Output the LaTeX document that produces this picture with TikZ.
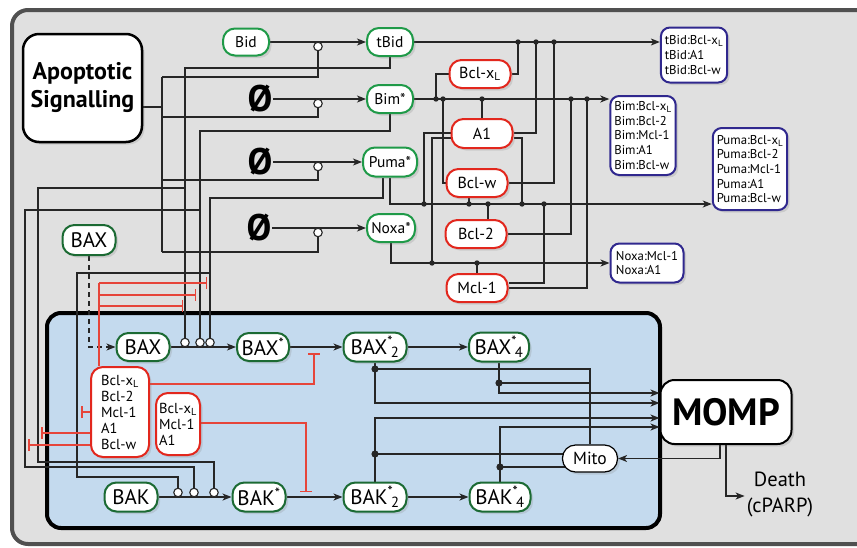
\documentclass[tikz,border=0pt]{standalone}
\usepackage{fontspec}
\setmainfont{PT Sans}
\usetikzlibrary{arrows.meta,shadows,calc}
\pgfdeclarelayer{back}
\pgfsetlayers{back,main}
\definecolor{frameg}{HTML}{505050}
\definecolor{bgg}{HTML}{E0E0E0}
\definecolor{innerb}{HTML}{C4DAEE}
\definecolor{gA}{HTML}{1F9A48}
\definecolor{gB}{HTML}{1B6A33}
\definecolor{rA}{HTML}{E2271D}
\definecolor{pA}{HTML}{30288E}
\definecolor{rL}{HTML}{E6453A}
\definecolor{wireC}{HTML}{262626}
\newcommand\bclxl{Bcl-x\textsubscript{L}}
\newcommand\starsub[1]{\textsuperscript{*}\kern-0.1em\textsubscript{#1}}
\begin{document}
\begin{tikzpicture}[x=1pt,y=-1pt,
  sz/.style 2 args={minimum width=#1pt,minimum height=#2pt},
  base/.style={draw,line width=2pt,fill=white,rounded corners=12pt,inner sep=0pt,align=center,
    drop shadow={opacity=0.22,shadow xshift=2.5pt,shadow yshift=-2.5pt}},
  gtop/.style={base,draw=gA,font=\fontsize{15.5}{17}\selectfont},
  gin/.style={base,draw=gB,font=\fontsize{21}{23}\selectfont},
  anti/.style={base,draw=rA,font=\fontsize{16}{18}\selectfont},
  cplx/.style={base,draw=pA,rounded corners=9pt,align=left,inner xsep=4pt,font=\fontsize{12.8}{14.6}\selectfont},
  inhb/.style={base,draw=rA,rounded corners=12pt,align=left,font=\fontsize{14.5}{16}\selectfont},
  empt/.style={inner sep=0.5pt,font=\fontsize{37}{37}\selectfont\bfseries},
  modc/.style={circle,draw=wireC,fill=white,line width=1.1pt,minimum size=8.5pt,inner sep=0pt},
  wire/.style={draw=wireC,line width=1.2pt},
  arr/.style={wire,-{Stealth[length=9pt,width=7pt,inset=2.5pt]}},
  rw/.style={draw=rL,line width=1.1pt},
  ri/.style={rw,-{Bar[width=12pt,line width=1.5pt]}}
]
\useasboundingbox (0,0) rectangle (857,547);
\begin{pgfonlayer}{back}
\draw[line width=4pt,draw=frameg,fill=bgg,rounded corners=16pt] (12,10) rectangle (880,544);
\draw[line width=4pt,draw=black,fill=innerb,rounded corners=14pt] (47,313) rectangle (660,528);
\end{pgfonlayer}

% ---------- nodes ----------
\node[base,draw=black,line width=2.5pt,rounded corners=16pt,sz={119}{108},font=\fontsize{24}{28}\selectfont\bfseries] (sig) at (82.5,88) {Apoptotic\\Signalling};
\node[gtop,sz={46}{27}] (bid) at (246,42) {Bid};
\node[gtop,sz={46}{28}] (tbid) at (390,42) {tBid};
\node[gtop,sz={46}{28}] (bim) at (390,99) {Bim*};
\node[gtop,sz={54}{29}] (puma) at (390,162) {Puma*};
\node[gtop,sz={48}{28}] (noxa) at (391,228) {Noxa*};
\node[empt] (e1) at (260,99) {Ø};
\node[empt] (e2) at (260,162) {Ø};
\node[empt] (e3) at (259,228) {Ø};

\node[anti,sz={61}{28}] (bclxl) at (480,74) {\bclxl};
\node[anti,sz={61}{29}] (a1) at (482,133.5) {A1};
\node[anti,sz={61}{28}] (bclw) at (477,183) {Bcl-w};
\node[anti,sz={61}{28}] (bcl2) at (476,234) {Bcl-2};
\node[anti,sz={61}{28}] (mcl1) at (477,288) {Mcl-1};

\node[cplx,sz={66}{55}] (ctbid) at (694,55) {tBid:\bclxl\\tBid:A1\\tBid:Bcl-w};
\node[cplx,sz={62}{79}] (cbim) at (643,135.5) {Bim:\bclxl\\Bim:Bcl-2\\Bim:Mcl-1\\Bim:A1\\Bim:Bcl-w};
\node[cplx,sz={73}{82}] (cpuma) at (750,169) {Puma:\bclxl\\Puma:Bcl-2\\Puma:Mcl-1\\Puma:A1\\Puma:Bcl-w};
\node[cplx,sz={73}{39}] (cnoxa) at (647,263) {Noxa:Mcl-1\\Noxa:A1};

\node[gin,sz={53}{30}] (baxo) at (89,240) {BAX};
\node[gin,sz={53}{28}] (bax) at (143,347) {BAX};
\node[gin,sz={52}{28}] (baxs) at (263,347) {BAX\textsuperscript{*}};
\node[gin,sz={63}{29}] (bax2) at (375,347) {BAX\starsub{2}};
\node[gin,sz={60}{29}] (bax4) at (499,347) {BAX\starsub{4}};
\node[gin,sz={53}{29}] (bak) at (131,497) {BAK};
\node[gin,sz={53}{29}] (baks) at (259,497) {BAK\textsuperscript{*}};
\node[gin,sz={63}{29}] (bak2) at (375,497) {BAK\starsub{2}};
\node[gin,sz={61}{29}] (bak4) at (500,497) {BAK\starsub{4}};

\node[inhb,sz={58}{90}] (inh1) at (120,412) {\bclxl\\Bcl-2\\Mcl-1\\A1\\Bcl-w};
\node[inhb,sz={44}{62}] (inh2) at (178,424) {\bclxl\\Mcl-1\\A1};

\node[base,draw=black,line width=1.2pt,rounded corners=13pt,sz={55}{27},font=\fontsize{17.5}{19}\selectfont] (mito) at (590,458.5) {Mito};
\node[base,draw=black,line width=2pt,rounded corners=14pt,sz={131}{64},font=\fontsize{38}{40}\selectfont\bfseries] (momp) at (726,412) {MOMP};
\node[font=\fontsize{20.5}{26}\selectfont,align=center,inner sep=2pt] (death) at (780,494) {Death\\(cPARP)};

% modifier circles
\node[modc] (m1) at (318,46.5) {};
\node[modc] (m2) at (318,103.5) {};
\node[modc] (m3) at (318,166.5) {};
\node[modc] (m4) at (318,232.5) {};
\node[modc] (cx1) at (185,342.5) {};
\node[modc] (cx2) at (200,342.5) {};
\node[modc] (cx3) at (210,342.5) {};
\node[modc] (ck1) at (178,492.5) {};
\node[modc] (ck2) at (194,492.5) {};
\node[modc] (ck3) at (214,492.5) {};

% ---------- connectors ----------
\begin{pgfonlayer}{back}
\draw[arr] (bid.east) -- (tbid.west);
\draw[arr] (e1.east) -- (bim.west);
\draw[arr] (e2.east) -- (puma.west);
\draw[arr] (e3.east) -- (noxa.west);
% apoptotic signalling
\draw[wire] (sig.east |- 0,107) -- (162,107);
\draw[wire] (162,77) -- (162,252);
\draw[wire] (m1.south) |- (162,77);
\draw[wire] (m2.south) |- (162,117);
\draw[wire] (m3.south) |- (162,180);
\draw[wire] (m4.south) |- (162,252);
% activators to BAX / BAK
\draw[wire] (tbid.south) |- (185,68) -- (cx1.north);
\draw[wire] (185,188) -| (38,462) -| (ck3.north);
\draw[wire] (bim.south) |- (200,131) -- (cx2.north);
\draw[wire] (200,210) -| (25,467) -| (ck2.north);
\draw[wire] ($(puma.south)+(-7,0)$) |- (210,198) -- (cx3.north);
\draw[wire] (210,273) -| (77,477) -| (ck1.north);
% to complexes
\draw[arr] (tbid.east) -- (ctbid.west |- tbid.east);
\draw[arr] (bim.east) -- (cbim.west |- bim.east);
\draw[arr] (puma.south) |- (cpuma.west |- 0,204);
\draw[arr] (noxa.south) |- (cnoxa.west);
% binding partners
\draw[wire] (bclxl.east) -| (518,42);
\draw[wire] (a1.east |- 0,133) -| (536,42);
\draw[wire] (bclw.east) -| (554,42);
\draw[wire] (bclxl.west) -| (436,99);
\draw[wire] (bclw.west) -| (443,99);
\draw[wire] (a1.north) -- (a1.north |- 0,99);
\draw[wire] (bcl2.east) -| (571,99);
\draw[wire] (mcl1.east |- 0,288) -| (587,99);
\draw[wire] (a1.west |- 0,133) -| (424,204);
\draw[wire] (a1.west |- 0,138) -| (432,263);
\draw[wire] (a1.east |- 0,138) -| (522,204);
\draw[wire] (bclw.south -| 469,0) -- (469,204);
\draw[wire] (bcl2.north -| 488,0) -- (488,204);
\draw[wire] (mcl1.east |- 0,283) -| (544,204);
\draw[wire] (mcl1.north) -- (mcl1.north |- 0,263);
% BAX / BAK activation
\draw[arr,dash pattern=on 5pt off 4pt] (baxo.south) |- (bax.west);
\draw[arr] (bax.east) -- (baxs.west);
\draw[arr] (baxs.east) -- (bax2.west);
\draw[arr] (bax2.east) -- (bax4.west);
\draw[arr] (bak.east) -- (baks.west);
\draw[arr] (baks.east) -- (bak2.west);
\draw[arr] (bak2.east) -- (bak4.west);
% MOMP and Mito
\draw[arr] (bax2.south) |- (momp.west |- 0,403);
\draw[arr] (bax4.south) |- (momp.west |- 0,393);
\draw[arr] (bak2.north) |- (momp.west |- 0,418);
\draw[arr] (bak4.north) |- (momp.west |- 0,427);
\draw[wire] (bax2.south |- 0,369) -| (mito.north);
\draw[wire] (bax4.south |- 0,383) -- (mito.north |- 0,383);
\draw[wire] (bak2.north |- 0,454) -- (564,454);
\draw[wire] (bak4.north |- 0,467) -- (566,467);
\draw[arr] ($(momp.south)+(-6,0)$) |- (mito.east);
\draw[arr] (momp.south) |- (death.west |- 0,496);
% inhibitions
\draw[rw] (inh1.north -| 99,0) -- (99,283);
\draw[ri] (99,283) -- (207,283);
\draw[ri] (99,295) -- (196,295);
\draw[ri] (99,306) -- (183,306);
\draw[ri] (inh1.east |- 0,384) -| (314,353);
\draw[ri] (inh1.west |- 0,412) -- (81,412);
\draw[ri] (inh1.west |- 0,433) -- (41,433);
\draw[ri] (inh1.west |- 0,445) -- (28,445);
\draw[ri] (inh2.east |- 0,423) -| (306,492);
\end{pgfonlayer}

% junction dots
\foreach \x/\y in {518/42,536/42,554/42,436/99,443/99,482/99,571/99,587/99,424/204,469/204,488/204,522/204,544/204,432/263,477/263}
  \fill[wireC] (\x,\y) circle (2.7pt);
\foreach \x/\y in {375/369,499/383,375/454,500/467}
  \fill[wireC] (\x,\y) circle (3.6pt);
\end{tikzpicture}
\end{document}
